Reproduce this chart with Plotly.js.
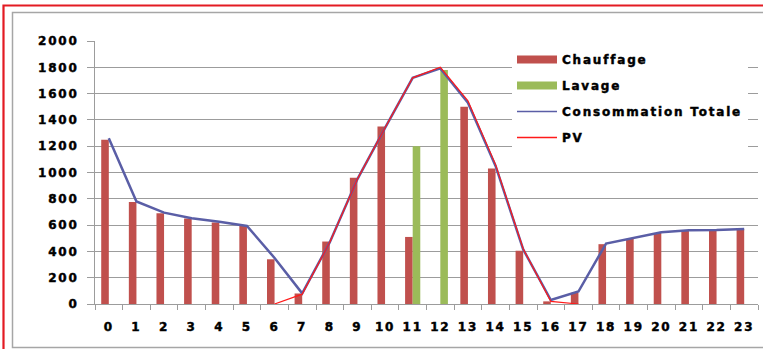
<!DOCTYPE html>
<html>
<head>
<meta charset="utf-8">
<script src="https://cdn.plot.ly/plotly-3.0.1.min.js"></script>
<style>
  html, body { margin: 0; padding: 0; background: #fff; }
  #chart { width: 763px; height: 349px; }
  /* wide, tracked, heavy labels */
  .xtick text, .ytick text, .legendtext {
    letter-spacing: 1.8px;
    stroke: #000; stroke-width: 0.45px;
  }
</style>
</head>
<body>
<div id="chart"></div>
<script>
// Hourly profile (hours 0..23)
const hours = ['0','1','2','3','4','5','6','7','8','9','10','11','12','13','14','15','16','17','18','19','20','21','22','23'];
const chauffage = [1250, 775, 690, 650, 620, 595, 340, 80, 475, 960, 1350, 510, 0, 1500, 1030, 405, 20, 85, 455, 495, 540, 560, 560, 570];
const lavage = [0, 0, 0, 0, 0, 0, 0, 0, 0, 0, 0, 1200, 1780, 0, 0, 0, 0, 0, 0, 0, 0, 0, 0, 0];
const consommationTotale = [1260, 780, 695, 652, 625, 594, 350, 81, 470, 950, 1340, 1720, 1792, 1530, 1050, 415, 30, 95, 460, 500, 545, 560, 562, 570];
const pv = [null, null, null, null, null, null, 0, 75, 470, 950, 1340, 1720, 1800, 1545, 1060, 420, 20, 0, null, null, null, null, null, null];
const yTicks = [0, 200, 400, 600, 800, 1000, 1200, 1400, 1600, 1800, 2000];

// Plot area in page pixels
const W = 763, H = 349;
const M = { l: 95, r: 5, t: 41, b: 45 };
const pw = W - M.l - M.r, ph = H - M.t - M.b;
const px = x => (x - M.l) / pw;
const py = y => (H - M.b - y) / ph;

const labelFont = { family: 'DejaVu Sans, Verdana, sans-serif', size: 12, weight: 'bold', color: '#000' };
const gray = '#9c9c9c';

const traces = [
  { type: 'bar', name: 'Chauffage', x: hours, y: chauffage, marker: { color: '#c0504d' }, legendgroup: 'a' },
  { type: 'bar', name: 'Lavage', x: hours, y: lavage, marker: { color: '#9bbb59' }, legendgroup: 'b' },
  { type: 'scatter', mode: 'lines', name: 'Consommation Totale', x: hours, y: consommationTotale,
    line: { color: '#5a5ea6', width: 2.5 }, legendgroup: 'c' },
  { type: 'scatter', mode: 'lines', name: 'PV', x: hours, y: pv,
    line: { color: '#ff1a1a', width: 1.2 }, legendgroup: 'd' }
];

const layout = {
  width: W, height: H,
  margin: M,
  paper_bgcolor: '#fff', plot_bgcolor: '#fff',
  font: labelFont,
  barmode: 'group', bargap: 0.45, bargroupgap: 0,
  showlegend: true,
  legend: {
    x: px(512), y: py(45), xanchor: 'left', yanchor: 'top',
    bgcolor: '#fff', borderwidth: 0,
    font: labelFont, itemwidth: 40, traceorder: 'grouped', tracegroupgap: 7
  },
  xaxis: {
    type: 'category', categoryorder: 'array', categoryarray: hours,
    showgrid: false, zeroline: false,
    showline: true, linecolor: gray, linewidth: 1,
    ticks: 'outside', tickson: 'boundaries', ticklen: 5, tickcolor: gray,
    ticklabelstandoff: 12, tickfont: labelFont
  },
  yaxis: {
    range: [0, 2000], tickvals: yTicks, ticktext: yTicks.map(String),
    showgrid: true, gridcolor: gray, gridwidth: 1, zeroline: false,
    showline: true, linecolor: gray, linewidth: 1,
    ticks: 'outside', ticklen: 7, tickcolor: gray,
    ticklabelstandoff: 6, tickfont: labelFont
  },
  shapes: [
    // outer red frame
    { type: 'rect', xref: 'paper', yref: 'paper', x0: px(3.5), x1: px(820), y0: py(400), y1: py(5.5),
      line: { color: '#e31b23', width: 2.2 }, fillcolor: 'rgba(0,0,0,0)' },
    // inner gray frame
    { type: 'rect', xref: 'paper', yref: 'paper', x0: px(12.5), x1: px(820), y0: py(347.5), y1: py(12.5),
      line: { color: '#a6a6a6', width: 1.5 }, fillcolor: 'rgba(0,0,0,0)' }
  ]
};

// Legend swatches: flat wide bars, thin lines
function styleLegend(gd) {
  gd.querySelectorAll('.legend .legendpoints path').forEach(p => {
    const d = p.getAttribute('d') || '';
    if (/^M6,6H-6V-6H6Z$/.test(d.replace(/\s/g, ''))) {
      p.setAttribute('d', 'M20,4H-20V-4H20Z');
    }
  });
  gd.querySelectorAll('.legend .legendlines path').forEach(p => {
    p.style.strokeWidth = '1.5px';
  });
}

Plotly.newPlot('chart', traces, layout, { staticPlot: true, displayModeBar: false }).then(gd => {
  styleLegend(gd);
  gd.on('plotly_afterplot', () => styleLegend(gd));
});
</script>
</body>
</html>
